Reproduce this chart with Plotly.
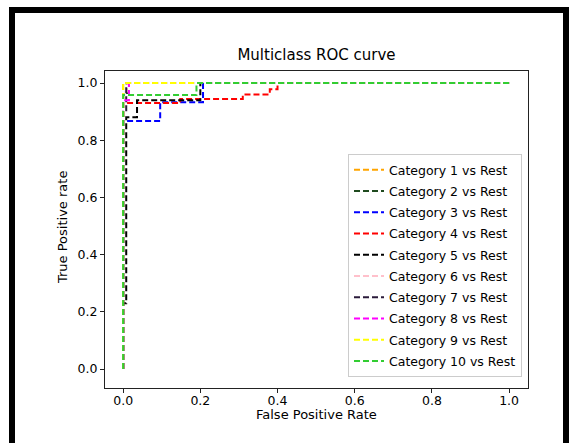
import plotly.graph_objects as go

# ROC curves, one-vs-rest, for ten categories
labels = [f"Category {i} vs Rest" for i in range(1, 11)]
colors = ["orange", "#1f4a1f", "blue", "red", "black",
          "pink", "#2b1b3b", "magenta", "yellow", "limegreen"]

fpr = [
    [0, 0, 1],
    [0, 0, 0.01, 0.01, 1],
    [0, 0, 0.096, 0.096, 0.207, 0.207, 1],
    [0, 0, 0.148, 0.148, 0.31, 0.31, 0.38, 0.38, 0.40, 0.40, 1],
    [0, 0, 0.008, 0.008, 0.036, 0.036, 0.2, 0.2, 1],
    [0, 0, 0.01, 0.01, 1],
    [0, 0, 0.008, 0.008, 1],
    [0, 0, 0.015, 0.015, 1],
    [0, 0, 1],
    [0, 0, 0.19, 0.19, 1],
]
tpr = [
    [0, 1, 1],
    [0, 0.96, 0.96, 1, 1],
    [0, 0.867, 0.867, 0.933, 0.933, 1, 1],
    [0, 0.93, 0.93, 0.944, 0.944, 0.96, 0.96, 0.978, 0.978, 1, 1],
    [0, 0.23, 0.23, 0.88, 0.88, 0.94, 0.94, 1, 1],
    [0, 0.97, 0.97, 1, 1],
    [0, 0.9, 0.9, 1, 1],
    [0, 0.94, 0.94, 1, 1],
    [0, 1, 1],
    [0, 0.958, 0.958, 1, 1],
]
ticks = [0, 0.2, 0.4, 0.6, 0.8, 1.0]
tick_text = ["0.0", "0.2", "0.4", "0.6", "0.8", "1.0"]

fig = go.Figure()
for i, (name, col, x, y) in enumerate(zip(labels, colors, fpr, tpr)):
    fig.add_trace(go.Scatter(x=x, y=y, mode="lines", name=name,
                             legendgroup=f"g{i}",
                             line=dict(color=col, width=2, dash="6px,3px")))

W, H = 574, 443
L, R, T, B = 105, 528, 71, 388
font = "DejaVu Sans"

fig.update_layout(
    width=W, height=H,
    margin=dict(l=L, r=W - R, t=T, b=H - B, pad=0),
    paper_bgcolor="white", plot_bgcolor="white",
    font=dict(family=font, size=12.5, color="black"),
    title=dict(text="Multiclass ROC curve", x=0.5, xref="paper",
               y=1 - 55 / H, yanchor="middle", font=dict(size=15)),
    showlegend=True,
    legend=dict(x=(348 - L) / (R - L), y=(B - 154) / (B - T),
                xanchor="left", yanchor="top",
                bordercolor="#cccccc", borderwidth=1, bgcolor="white",
                font=dict(size=12.5), tracegroupgap=2),
    annotations=[
        dict(text="False Positive Rate", xref="paper", yref="paper",
             x=0.5, y=-(414 - B) / (B - T), xanchor="center", yanchor="middle",
             showarrow=False, font=dict(size=13)),
        dict(text="True Positive rate", xref="paper", yref="paper",
             x=-(L - 62) / (R - L), y=(B - 228) / (B - T), textangle=-90,
             xanchor="center", yanchor="middle",
             showarrow=False, font=dict(size=13)),
    ],
)
fig.update_xaxes(range=[-0.047, 1.049], tickvals=ticks, ticktext=tick_text,
                 showgrid=False, zeroline=False, showline=True, mirror=True,
                 linecolor="#222", linewidth=1, ticks="outside", ticklen=4,
                 tickcolor="#222", ticklabelstandoff=-3)
fig.update_yaxes(range=[-0.066, 1.042], tickvals=ticks, ticktext=tick_text,
                 showgrid=False, zeroline=False, showline=True, mirror=True,
                 linecolor="#222", linewidth=1, ticks="outside", ticklen=4,
                 tickcolor="#222")

# thick black frame around the figure
fig.add_shape(type="rect", xref="paper", yref="paper",
              x0=(12 - L) / (R - L), x1=(566 - L) / (R - L),
              y0=(B - 460) / (B - T), y1=(B - 10) / (B - T),
              line=dict(color="black", width=6), fillcolor="rgba(0,0,0,0)")

fig.write_html("out.html")
